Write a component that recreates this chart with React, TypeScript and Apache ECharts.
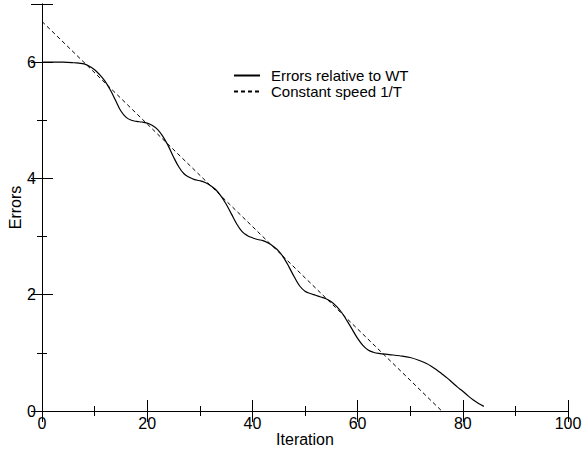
import React, { useEffect, useRef } from "react";
import * as echarts from "echarts";

const iterations = [0, 2, 4, 6, 8, 9, 10, 11, 12, 13, 14, 15, 16, 17, 18, 19, 20, 21, 22, 23, 24, 25, 26, 27, 28, 29, 30, 31, 32, 33, 34, 35, 36, 37, 38, 39, 40, 41, 42, 43, 44, 45, 46, 47, 48, 49, 50, 51, 52, 53, 54, 55, 56, 57, 58, 59, 60, 61, 62, 63, 64, 66, 68, 70, 72, 73, 74, 75, 76, 77, 78, 79, 80, 81, 82, 83, 84];
const errorsWT = [6.0, 6.0, 6.0, 5.99, 5.97, 5.93, 5.87, 5.78, 5.67, 5.52, 5.34, 5.16, 5.05, 5.0, 4.98, 4.97, 4.95, 4.91, 4.84, 4.72, 4.56, 4.37, 4.2, 4.08, 4.02, 3.98, 3.96, 3.93, 3.88, 3.81, 3.7, 3.56, 3.39, 3.22, 3.09, 3.02, 2.98, 2.95, 2.93, 2.89, 2.83, 2.75, 2.63, 2.47, 2.3, 2.15, 2.06, 2.02, 1.99, 1.96, 1.93, 1.88, 1.8, 1.69, 1.55, 1.4, 1.25, 1.13, 1.05, 1.01, 0.99, 0.97, 0.95, 0.92, 0.86, 0.82, 0.77, 0.71, 0.64, 0.57, 0.49, 0.41, 0.34, 0.26, 0.19, 0.13, 0.08];
const constantX = [0, 76];
const constantY = [6.7, 0];
const xTicks = [0, 20, 40, 60, 80, 100];
const yTicks = [0, 2, 4, 6];
const seriesNames = ["Errors relative to WT", "Constant speed 1/T"];

const FONT = "Liberation Sans, Arial, sans-serif";

export default function App() {
  const ref = useRef<HTMLDivElement>(null);
  useEffect(() => {
    if (!ref.current) return;
    const chart = echarts.init(ref.current, undefined, { renderer: "svg" });
    const axisLine = { show: true, lineStyle: { color: "#000", width: 1 } };
    const majorTick = { show: true, inside: true, length: 11, lineStyle: { color: "#000", width: 1 } };
    const minorTick = { show: true, splitNumber: 2, length: 5, lineStyle: { color: "#000", width: 1 } };
    chart.setOption({
      animation: false,
      backgroundColor: "#fff",
      textStyle: { fontFamily: FONT },
      grid: { left: 42, right: 14, top: 4, bottom: 45, containLabel: false, outerBoundsMode: "none" },
      legend: {
        orient: "vertical",
        left: 233,
        top: 67,
        padding: 0,
        itemWidth: 26,
        itemHeight: 14,
        itemGap: -1,
        data: seriesNames,
        itemStyle: { opacity: 0, color: "transparent", borderColor: "transparent", borderWidth: 0 },
        textStyle: { fontSize: 15, lineHeight: 17, color: "#000", fontFamily: FONT, padding: [0, 0, 0, 6] },
      },
      xAxis: [
        {
          type: "value",
          min: xTicks[0],
          max: xTicks[xTicks.length - 1],
          interval: 20,
          name: "Iteration",
          nameLocation: "middle",
          nameGap: 20,
          nameMoveOverlap: false,
          nameTextStyle: { fontSize: 16, color: "#000", fontFamily: FONT },
          axisLine,
          axisTick: majorTick,
          minorTick,
          splitLine: { show: false },
          axisLabel: { fontSize: 16, color: "#000", margin: 4, fontFamily: FONT },
        },
        {
          type: "value",
          position: "top",
          min: xTicks[0],
          max: xTicks[xTicks.length - 1],
          interval: 20,
          axisLine,
          axisTick: majorTick,
          minorTick,
          splitLine: { show: false },
          axisLabel: { show: false },
        },
      ],
      yAxis: [
        {
          type: "value",
          min: 0,
          max: 7,
          interval: 2,
          name: "Errors",
          nameLocation: "middle",
          nameGap: 19,
          nameMoveOverlap: false,
          nameTextStyle: { fontSize: 16, color: "#000", fontFamily: FONT },
          axisLine,
          axisTick: majorTick,
          minorTick,
          splitLine: { show: false },
          axisLabel: {
            fontSize: 16,
            color: "#000",
            margin: 6,
            fontFamily: FONT,
            formatter: (v: number) => (yTicks.includes(v) ? String(v) : ""),
          },
        },
        {
          type: "value",
          position: "right",
          min: 0,
          max: 7,
          interval: 2,
          axisLine,
          axisTick: majorTick,
          minorTick,
          splitLine: { show: false },
          axisLabel: { show: false },
        },
      ],
      series: [
        {
          name: seriesNames[0],
          type: "line",
          xAxisIndex: 0,
          yAxisIndex: 0,
          data: iterations.map((x, i) => [x, errorsWT[i]]),
          smooth: 0.4,
          symbol: "none",
          lineStyle: { color: "#000", width: 1.2, type: "solid" },
          itemStyle: { color: "#000" },
        },
        {
          name: seriesNames[1],
          type: "line",
          xAxisIndex: 0,
          yAxisIndex: 0,
          data: constantX.map((x, i) => [x, constantY[i]]),
          symbol: "none",
          lineStyle: { color: "#000", width: 1, type: [4, 3] },
          itemStyle: { color: "#000" },
        },
      ],
    });
    return () => chart.dispose();
  }, []);
  return <div ref={ref} style={{ width: 582, height: 456, position: "fixed", left: 0, top: 0 }} />;
}
